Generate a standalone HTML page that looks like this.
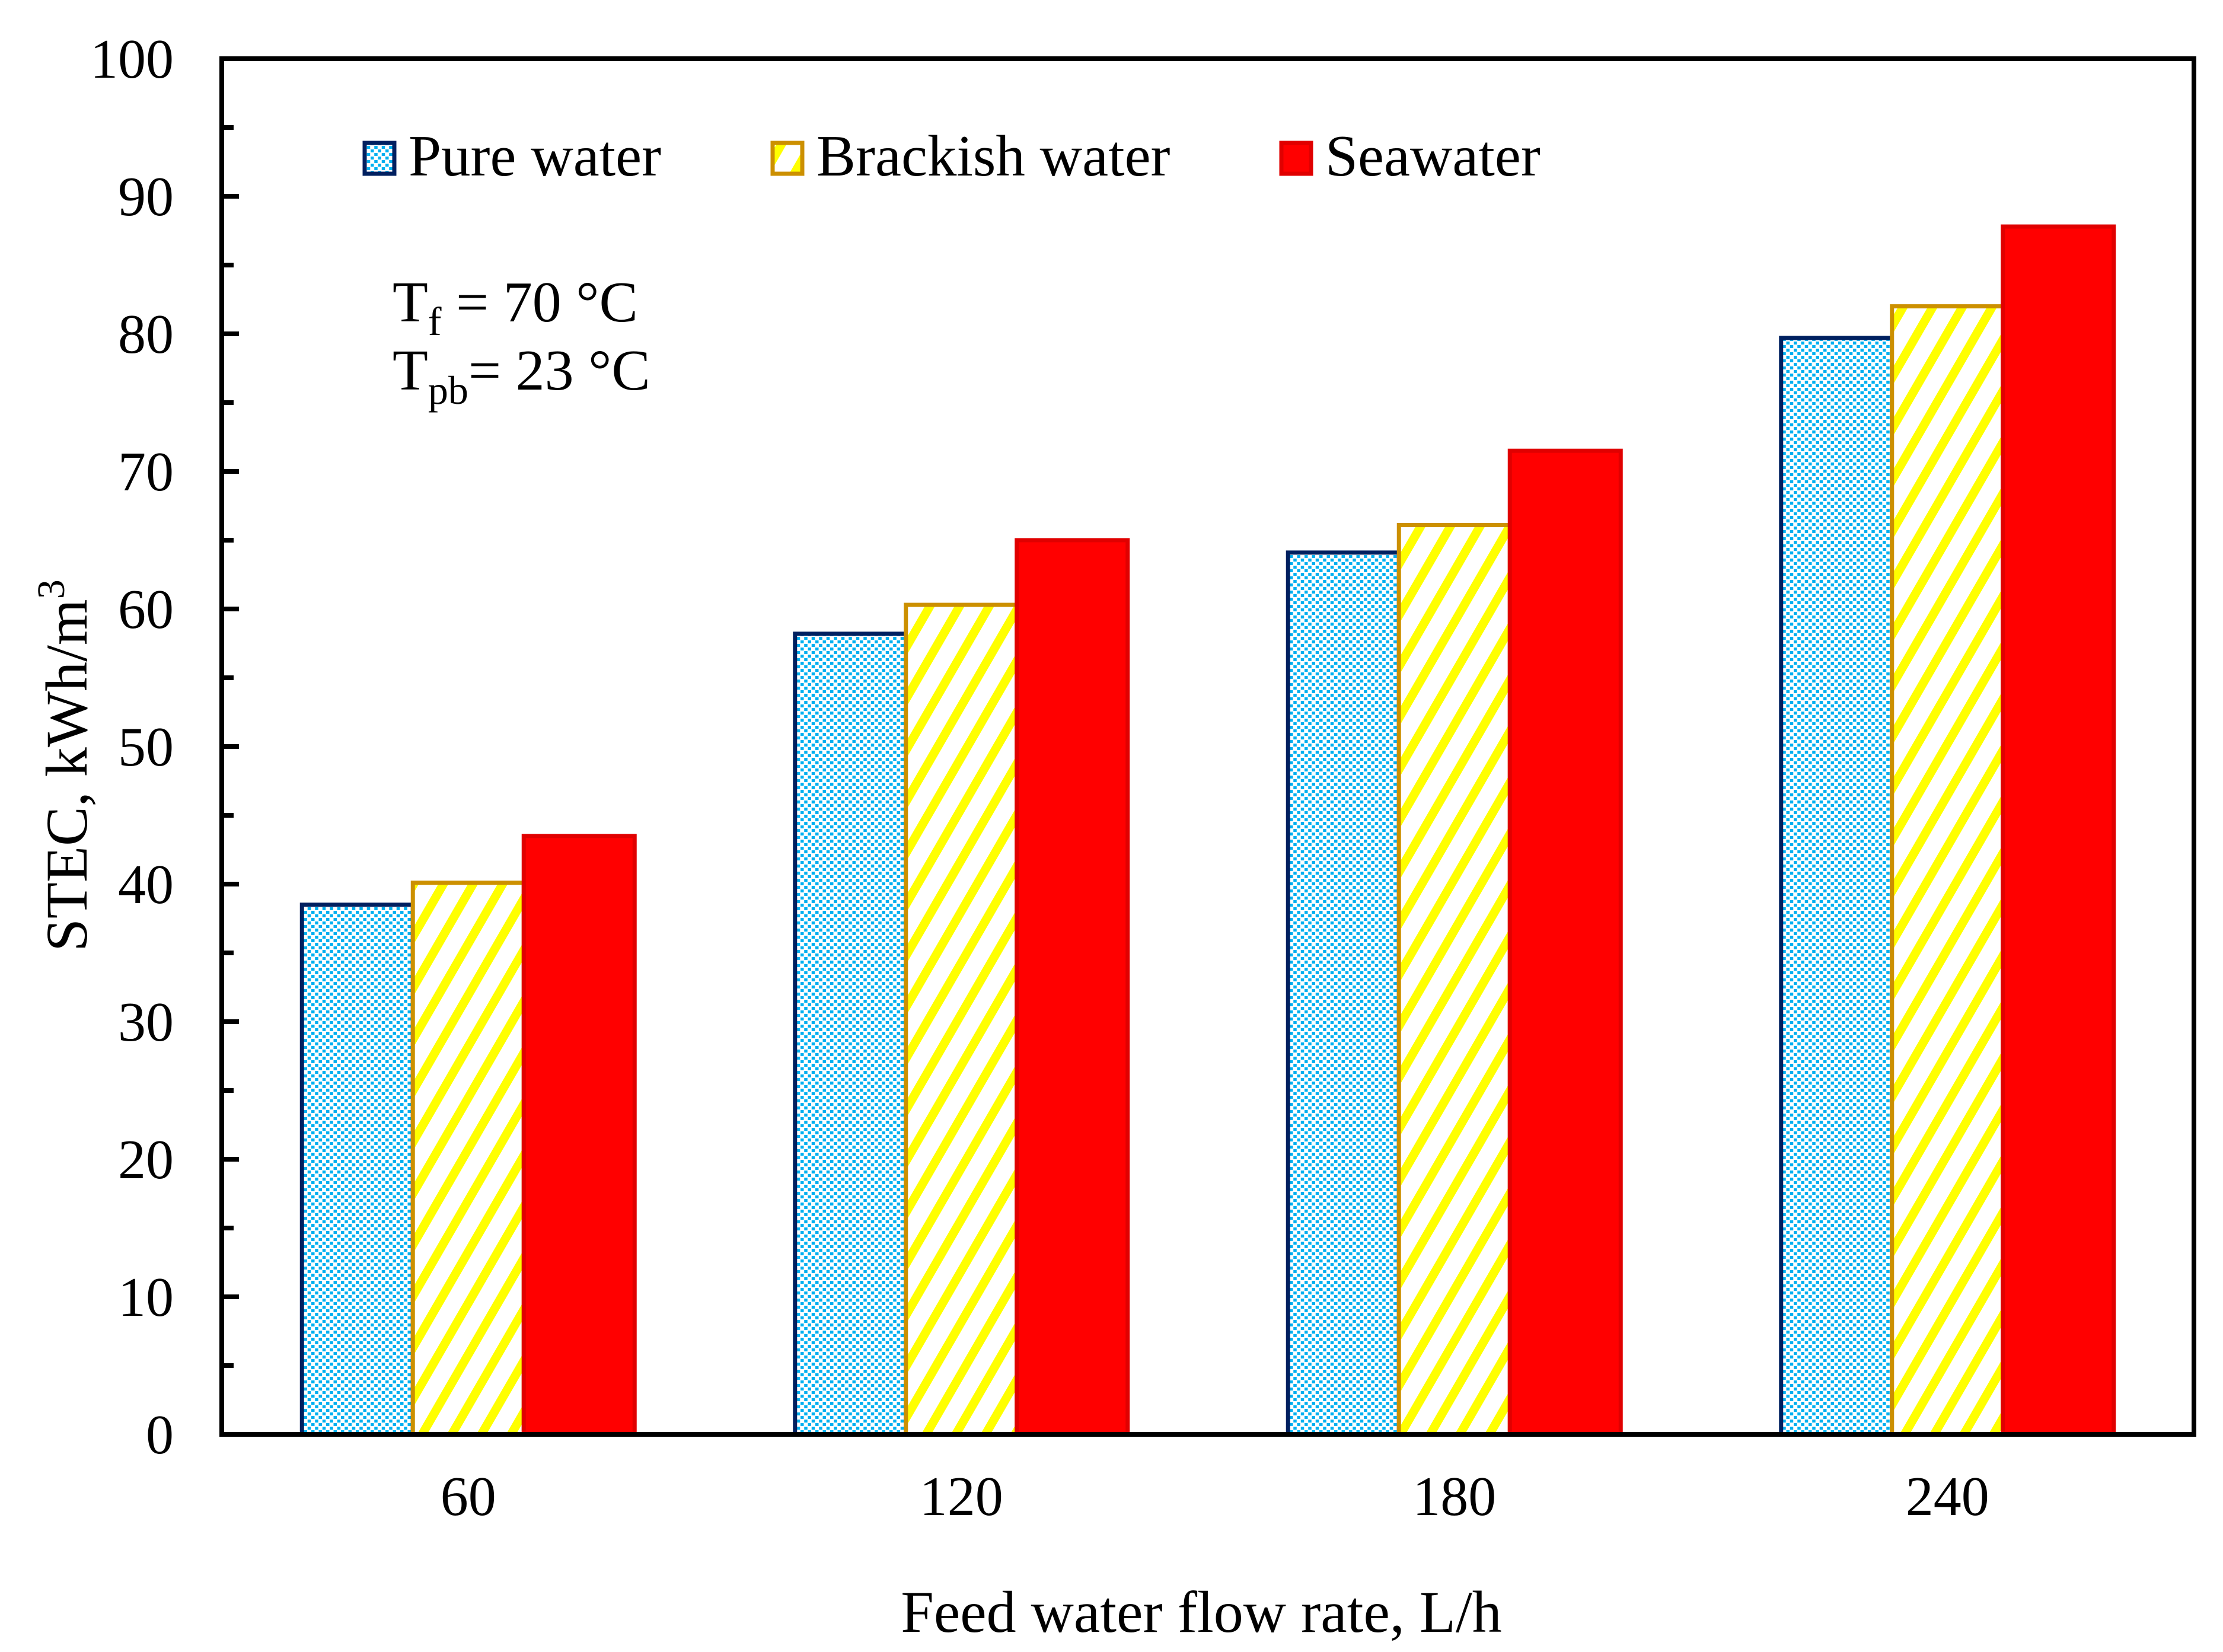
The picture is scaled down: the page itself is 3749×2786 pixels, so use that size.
<!DOCTYPE html>
<html><head><meta charset="utf-8"><style>
html,body{margin:0;padding:0;background:#fff}
svg{display:block}
text{font-family:"Liberation Serif",serif;fill:#000}
</style></head><body>
<svg id="chart" width="3749" height="2786" viewBox="0 0 3749 2786" xmlns="http://www.w3.org/2000/svg">
<defs>
<pattern id="dots" patternUnits="userSpaceOnUse" width="12.5" height="12">
<rect width="12.5" height="12" fill="#fff"/>
<rect x="0" y="0" width="5.5" height="5" fill="#00b0f0"/>
<rect x="6.25" y="6" width="5.5" height="5" fill="#00b0f0"/>
</pattern>
<pattern id="stripes" patternUnits="userSpaceOnUse" width="50" height="50" patternTransform="skewX(-30)">
<rect width="50" height="50" fill="#fff"/>
<rect x="0" y="0" width="17" height="50" fill="#ffff00"/>
</pattern>
</defs>
<g id="plot"></g>
<text x="689" y="296" font-size="99">Pure water</text>
<text x="1377" y="296" font-size="99">Brackish water</text>
<text x="2235" y="296" font-size="99">Seawater</text>
<rect x="615" y="241" width="50" height="52" fill="url(#dots)" stroke="#002060" stroke-width="7"/>
<rect x="1303" y="241" width="50" height="52" fill="url(#stripes)" stroke="#cc9000" stroke-width="7"/>
<rect x="2161" y="241" width="50" height="52" fill="#ff0000" stroke="#e00000" stroke-width="7"/>
<text x="662" y="542" font-size="98">T<tspan font-size="68" dy="23">f</tspan><tspan dy="-23"> = 70 °C</tspan></text>
<text x="662" y="657" font-size="98">T<tspan font-size="68" dy="24">pb</tspan><tspan dy="-24">= 23 °C</tspan></text>
<text x="2026" y="2752" font-size="100" text-anchor="middle">Feed water flow rate, L/h</text>
<text transform="translate(146,1291) rotate(-90)" font-size="100" text-anchor="middle">STEC, kWh/m<tspan font-size="66" dy="-38">3</tspan></text>
</svg>
<script>
const categories = ["60","120","180","240"];
const pureWater = [38.5, 58.2, 64.1, 79.7];
const brackishWater = [40.1, 60.3, 66.1, 82.0];
const seawater = [43.5, 65.0, 71.5, 87.8];
const yTicks = [0,10,20,30,40,50,60,70,80,90,100];

const NS = "http://www.w3.org/2000/svg";
const L = 374, R = 3700, T = 99, B = 2419;
const yMax = 100;
function y(v){ return B - (v / yMax) * (B - T); }
const band = (R - L) / categories.length;
function xc(i){ return L + band * (i + 0.5); }
const barW = 187;
const g = document.getElementById('plot');
function mk(tag, attrs){ const e = document.createElementNS(NS, tag); for (const k in attrs) e.setAttribute(k, attrs[k]); g.appendChild(e); return e; }

const series = [
  {vals: pureWater, fill: "url(#dots)", stroke: "#002060", sw: 7, name: "pure"},
  {vals: brackishWater, fill: "url(#stripes)", stroke: "#cc9000", sw: 7, name: "brackish"},
  {vals: seawater, fill: "#ff0000", stroke: "#e00000", sw: 7, name: "seawater"}
];
series.forEach((s, si) => {
  s.vals.forEach((v, i) => {
    const x0 = xc(i) + (si - 1.5) * barW;
    const r = mk('rect', {x: x0, y: y(v), width: barW, height: y(0) - y(v), fill: s.fill, stroke: s.stroke, 'stroke-width': s.sw});
    
    
  });
});

const fr = mk('rect', {x: L, y: T, width: R - L, height: B - T, fill: 'none', stroke: '#000', 'stroke-width': 8});



yTicks.forEach(t => {
  const tk = mk('line', {x1: L, x2: L + 29, y1: y(t), y2: y(t), stroke: '#000', 'stroke-width': 8});
  
  
  if (t < yMax) {
    const mn = mk('line', {x1: L, x2: L + 20, y1: y(t + 5), y2: y(t + 5), stroke: '#000', 'stroke-width': 8});
    
    
  }
  const lb = mk('text', {x: 293, y: y(t) + 32, 'font-size': 94, 'text-anchor': 'end'});
  lb.textContent = t;
  
  
});

categories.forEach((c, i) => {
  const lb = mk('text', {x: xc(i), y: 2555, 'font-size': 94, 'text-anchor': 'middle'});
  lb.textContent = c;
  
  
});
</script>
</body></html>
